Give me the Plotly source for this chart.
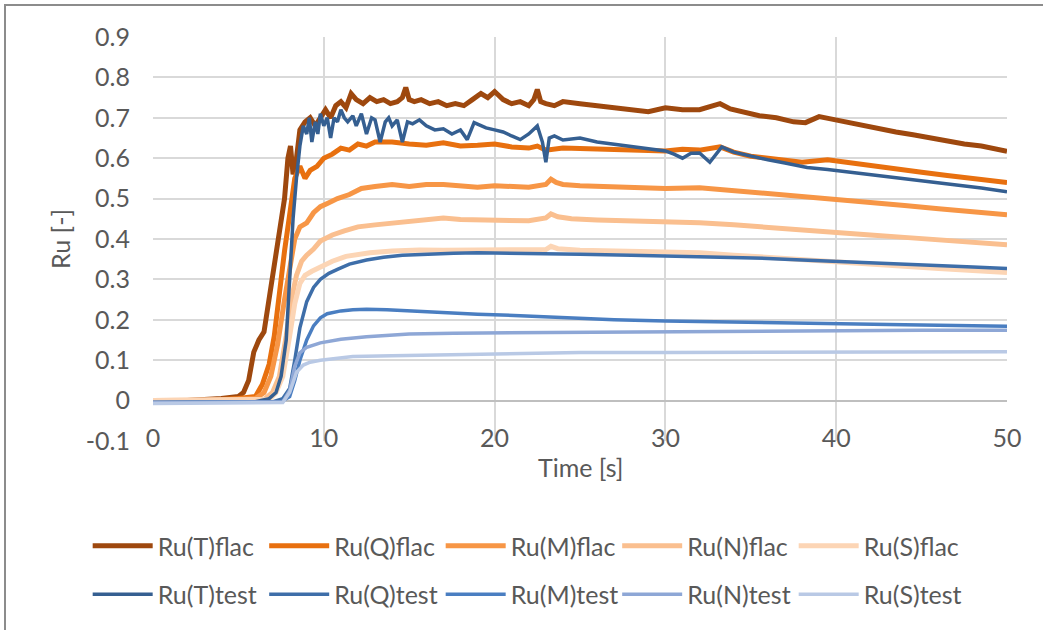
import plotly.graph_objects as go

# ---------------- data ----------------
names_flac = ["Ru(T)flac", "Ru(Q)flac", "Ru(M)flac", "Ru(N)flac", "Ru(S)flac"]
names_test = ["Ru(T)test", "Ru(Q)test", "Ru(M)test", "Ru(N)test", "Ru(S)test"]

t_T_flac = [0, 2, 4, 5, 5.3, 5.6, 5.9, 6.2, 6.5, 6.8, 7.1, 7.4, 7.7, 7.9, 8.05, 8.2, 8.4, 8.6, 8.9, 9.2, 9.5,
            9.8, 10.1, 10.4, 10.7, 11.0, 11.3, 11.6, 11.9, 12.3, 12.7, 13.1, 13.5, 13.9, 14.3, 14.6, 14.8,
            15.0, 15.3, 15.7, 16.2, 16.7, 17.2, 17.7, 18.2, 18.7, 19.2, 19.6, 20.0, 20.5, 21.0, 21.5, 22.0,
            22.3, 22.5, 22.7, 23.0, 23.5, 24, 25, 26, 27, 28, 29, 30, 31, 32, 32.6, 33.2, 33.8, 34.5, 35.5,
            36.5, 37.5, 38.2, 39.0, 39.6, 40.5, 41.5, 42.5, 43.5, 44.5, 45.5, 46.5, 47.5, 48.5, 49.5, 50]
v_T_flac = [0, 0, 0.005, 0.01, 0.02, 0.05, 0.12, 0.15, 0.17, 0.25, 0.33, 0.42, 0.5, 0.6, 0.63, 0.56, 0.6,
            0.67, 0.69, 0.7, 0.68, 0.7, 0.72, 0.7, 0.73, 0.74, 0.725, 0.76, 0.745, 0.735, 0.75, 0.74, 0.745,
            0.735, 0.74, 0.75, 0.775, 0.745, 0.74, 0.745, 0.735, 0.74, 0.73, 0.735, 0.73, 0.745, 0.76, 0.75,
            0.765, 0.745, 0.735, 0.74, 0.73, 0.745, 0.77, 0.74, 0.735, 0.73, 0.74, 0.735, 0.73, 0.725, 0.72,
            0.715, 0.725, 0.72, 0.72, 0.727, 0.735, 0.722, 0.715, 0.705, 0.7, 0.69, 0.688, 0.703, 0.698,
            0.69, 0.68, 0.672, 0.665, 0.658, 0.65, 0.642, 0.635, 0.63, 0.622, 0.617]

t_Q_flac = [0, 3, 5, 6, 6.4, 6.8, 7.1, 7.4, 7.7, 8.0, 8.3, 8.6, 8.9, 9.2, 9.6, 10, 10.5, 11, 11.5, 12, 12.5,
            13, 14, 15, 16, 17, 18, 19, 20, 21, 22, 22.5, 23, 24, 26, 28, 30, 31, 32, 33.2, 34, 35, 36, 37,
            38, 39.5, 41, 42, 43.7, 45, 46.5, 48, 50]
v_Q_flac = [0, 0, 0.005, 0.01, 0.04, 0.09, 0.16, 0.27, 0.37, 0.46, 0.55, 0.58, 0.55, 0.57, 0.58, 0.6, 0.61,
            0.625, 0.62, 0.635, 0.63, 0.64, 0.64, 0.635, 0.632, 0.638, 0.63, 0.632, 0.635, 0.628, 0.625, 0.63,
            0.62, 0.625, 0.622, 0.62, 0.618, 0.622, 0.62, 0.628, 0.615, 0.605, 0.6, 0.595, 0.59, 0.596, 0.587,
            0.58, 0.572, 0.565, 0.557, 0.55, 0.54]

t_M_flac = [0, 3, 6, 6.5, 6.9, 7.3, 7.7, 8.0, 8.3, 8.6, 9.0, 9.4, 9.8, 10.3, 10.8, 11.5, 12.2, 13, 14, 15, 16,
            17, 18, 19, 20, 21, 22, 23, 23.3, 23.6, 24, 25, 26, 28, 30, 32, 34, 36, 38, 40, 42, 44, 46, 48, 50]
v_M_flac = [0, 0, 0.005, 0.02, 0.06, 0.14, 0.25, 0.33, 0.4, 0.43, 0.44, 0.465, 0.48, 0.49, 0.5, 0.51, 0.525,
            0.53, 0.535, 0.53, 0.535, 0.535, 0.53, 0.528, 0.532, 0.53, 0.528, 0.535, 0.548, 0.54, 0.535,
            0.532, 0.53, 0.527, 0.525, 0.527, 0.52, 0.513, 0.507, 0.5, 0.492, 0.483, 0.475, 0.467, 0.46]

t_N_flac = [0, 3, 6.5, 7.0, 7.4, 7.8, 8.1, 8.4, 8.7, 9.0, 9.4, 9.8, 10.5, 11.2, 12, 13, 14, 15, 16, 17, 18, 19,
            20, 21, 22, 23, 23.3, 23.7, 24.5, 26, 28, 30, 32, 34, 36, 38, 40, 42, 44, 46, 48, 50]
v_N_flac = [0, 0, 0.003, 0.02, 0.06, 0.16, 0.25, 0.31, 0.345, 0.36, 0.375, 0.395, 0.41, 0.42, 0.43, 0.435,
            0.44, 0.445, 0.45, 0.452, 0.448, 0.447, 0.445, 0.443, 0.445, 0.452, 0.462, 0.455, 0.45, 0.447,
            0.445, 0.443, 0.44, 0.435, 0.428, 0.422, 0.416, 0.41, 0.404, 0.398, 0.392, 0.386]

t_S_flac = [0, 3, 6.8, 7.2, 7.6, 8.0, 8.3, 8.6, 8.9, 9.3, 9.8, 10.5, 11.3, 12.0, 12.7, 14, 15.6, 17, 19, 21, 23,
            23.3, 23.7, 25, 27, 30, 32, 34, 36, 38, 40, 42, 44, 46, 48, 50]
v_S_flac = [0, 0, 0.003, 0.02, 0.06, 0.16, 0.24, 0.29, 0.31, 0.32, 0.33, 0.345, 0.357, 0.362, 0.366, 0.37,
            0.373, 0.372, 0.372, 0.373, 0.374, 0.382, 0.376, 0.372, 0.37, 0.368, 0.366, 0.36, 0.354, 0.349,
            0.343, 0.337, 0.332, 0.327, 0.322, 0.317]

t_T_test = [0, 3, 6, 6.8, 7.2, 7.5, 7.8, 8.0, 8.2, 8.4, 8.6, 8.8, 9.0, 9.15, 9.3, 9.5, 9.65, 9.8, 10.0, 10.2,
            10.4, 10.6, 10.8, 11.0, 11.2, 11.4, 11.7, 11.9, 12.2, 12.5, 12.8, 13.0, 13.3, 13.6, 13.8, 14.0,
            14.3, 14.6, 14.9, 15.2, 15.6, 16.0, 16.5, 17.0, 17.5, 18.0, 18.4, 18.8, 19.1, 19.5, 20.0, 20.5,
            21.0, 21.5, 22.0, 22.5, 22.8, 23.0, 23.2, 23.5, 24, 25, 26, 27, 28, 29, 30, 30.5, 31, 31.5, 32,
            32.6, 33.3, 34, 35, 36, 37, 38.3, 39.5, 40.5, 41.8, 43, 44.5, 45.7, 47, 48.5, 50]
v_T_test = [-0.005, -0.005, -0.003, 0.005, 0.02, 0.06, 0.15, 0.3, 0.45, 0.55, 0.63, 0.68, 0.66, 0.7, 0.64,
            0.69, 0.66, 0.71, 0.68, 0.7, 0.65, 0.7, 0.69, 0.72, 0.7, 0.69, 0.705, 0.68, 0.71, 0.66, 0.7, 0.695,
            0.64, 0.69, 0.7, 0.68, 0.695, 0.64, 0.69, 0.685, 0.695, 0.68, 0.67, 0.673, 0.66, 0.67, 0.646,
            0.688, 0.682, 0.675, 0.67, 0.665, 0.655, 0.646, 0.66, 0.68, 0.64, 0.59, 0.65, 0.655, 0.645, 0.65,
            0.64, 0.635, 0.63, 0.625, 0.618, 0.61, 0.6, 0.612, 0.613, 0.59, 0.628, 0.615, 0.605, 0.596, 0.588,
            0.577, 0.572, 0.567, 0.56, 0.553, 0.546, 0.54, 0.533, 0.526, 0.517]

t_Q_test = [0, 3, 7, 7.6, 8.0, 8.3, 8.6, 9.0, 9.4, 9.8, 10.3, 10.8, 11.5, 12.5, 13.5, 14.6, 16, 17.6, 19, 21,
            23, 25, 28, 30, 32, 34, 36, 38, 40, 42, 44, 46, 48, 50]
v_Q_test = [-0.005, -0.005, -0.003, 0.005, 0.03, 0.1, 0.18, 0.245, 0.28, 0.3, 0.315, 0.325, 0.338, 0.348,
            0.355, 0.36, 0.363, 0.365, 0.366, 0.364, 0.363, 0.362, 0.36, 0.358, 0.357, 0.355, 0.352, 0.348,
            0.345, 0.342, 0.339, 0.335, 0.331, 0.327]

t_M_test = [0, 3, 7.5, 8.0, 8.3, 8.6, 9.0, 9.4, 9.8, 10.2, 11, 11.7, 12.5, 13.7, 15, 17.6, 19, 21.5, 24, 27,
            30, 32, 35, 38, 41, 44, 47, 50]
v_M_test = [-0.005, -0.005, -0.003, 0.01, 0.05, 0.1, 0.15, 0.185, 0.205, 0.215, 0.222, 0.225, 0.226, 0.225,
            0.222, 0.218, 0.214, 0.21, 0.205, 0.2, 0.197, 0.196, 0.194, 0.192, 0.19, 0.188, 0.186, 0.184]

t_N_test = [0, 3, 7.6, 8.0, 8.3, 8.6, 9.0, 9.8, 11, 12.5, 13.7, 15, 17.6, 21.5, 25, 30, 35, 40, 45, 50]
v_N_test = [-0.005, -0.005, -0.003, 0.025, 0.085, 0.118, 0.132, 0.143, 0.152, 0.158, 0.162, 0.165, 0.167,
            0.168, 0.17, 0.172, 0.173, 0.173, 0.174, 0.174]

t_S_test = [0, 3, 7.6, 8.0, 8.4, 8.8, 9.2, 9.8, 11, 11.7, 14, 17, 21.5, 25, 30, 35, 40, 45, 50]
v_S_test = [-0.007, -0.007, -0.005, 0.02, 0.07, 0.088, 0.095, 0.1, 0.106, 0.109, 0.111, 0.113, 0.118, 0.119,
            0.119, 0.12, 0.12, 0.121, 0.121]

x_ticks = [0, 10, 20, 30, 40, 50]
y_ticks = [-0.1, 0, 0.1, 0.2, 0.3, 0.4, 0.5, 0.6, 0.7, 0.8, 0.9]
y_tick_text = ["-0.1", "0", "0.1", "0.2", "0.3", "0.4", "0.5", "0.6", "0.7", "0.8", "0.9"]

# ---------------- styling ----------------
colors_flac = ["#9E480E", "#E8700F", "#F79646", "#FABF8F", "#FCD5B5"]
colors_test = ["#355F91", "#3E6EA9", "#4A7EC1", "#8EA7D6", "#B9C9E5"]
FONT = "Lato"
FS = 25
TXT = "#595959"

flac_series = [(t_T_flac, v_T_flac), (t_Q_flac, v_Q_flac), (t_M_flac, v_M_flac),
               (t_N_flac, v_N_flac), (t_S_flac, v_S_flac)]
test_series = [(t_T_test, v_T_test), (t_Q_test, v_Q_test), (t_M_test, v_M_test),
               (t_N_test, v_N_test), (t_S_test, v_S_test)]

fig = go.Figure()
for name, (t, v), c in zip(names_flac, flac_series, colors_flac):
    fig.add_trace(go.Scatter(x=t, y=v, name=name, mode="lines",
                             line=dict(color=c, width=5), legend="legend"))
for name, (t, v), c in zip(names_test, test_series, colors_test):
    fig.add_trace(go.Scatter(x=t, y=v, name=name, mode="lines",
                             line=dict(color=c, width=3.5), legend="legend2"))

legend_common = dict(orientation="h", xanchor="left", yanchor="middle",
                     font=dict(family=FONT, size=FS, color=TXT),
                     entrywidth=101.5, entrywidthmode="pixels", itemwidth=60,
                     bgcolor="rgba(0,0,0,0)", itemclick=False, itemdoubleclick=False)

LEG_X = -0.08 + 3 / 854

fig.update_layout(
    width=1043, height=630,
    margin=dict(l=153, r=36, t=37, b=188.5),
    paper_bgcolor="white", plot_bgcolor="white",
    font=dict(family=FONT, size=FS, color=TXT),
    xaxis=dict(range=[0, 50], tickvals=x_ticks, showgrid=True, gridcolor="#D9D9D9", gridwidth=2,
               zeroline=False, showline=False, ticks="", ticklabelstandoff=-20,
               tickfont=dict(family=FONT, size=FS, color=TXT)),
    yaxis=dict(range=[-0.1, 0.9], tickvals=y_ticks, ticktext=y_tick_text, showgrid=True,
               gridcolor="#D9D9D9", gridwidth=2, zeroline=True, zerolinecolor="#BFBFBF",
               zerolinewidth=2, showline=False, ticks="", ticklabelstandoff=22,
               tickfont=dict(family=FONT, size=FS, color=TXT)),
    legend=dict(x=LEG_X, y=-0.26, **legend_common),
    legend2=dict(x=LEG_X, y=-0.38, **legend_common),
    annotations=[
        dict(text="Ru [-]", xref="paper", yref="paper", x=(60 - 153) / 854, y=0.5,
             textangle=-90, showarrow=False, xanchor="center", yanchor="middle",
             font=dict(family=FONT, size=FS, color=TXT)),
        dict(text="Time [s]", xref="paper", yref="paper", x=0.5, y=(441.5 - 468) / 404.5,
             showarrow=False, xanchor="center", yanchor="middle",
             font=dict(family=FONT, size=FS, color=TXT)),
    ],
    shapes=[dict(type="rect", xref="paper", yref="paper",
                 x0=(5 - 153) / 854, x1=1.3, y0=-0.6, y1=(441.5 - 5) / 404.5,
                 line=dict(color="#8C8C8C", width=2), fillcolor="rgba(0,0,0,0)", layer="below")],
)

fig.write_html("out.html")
